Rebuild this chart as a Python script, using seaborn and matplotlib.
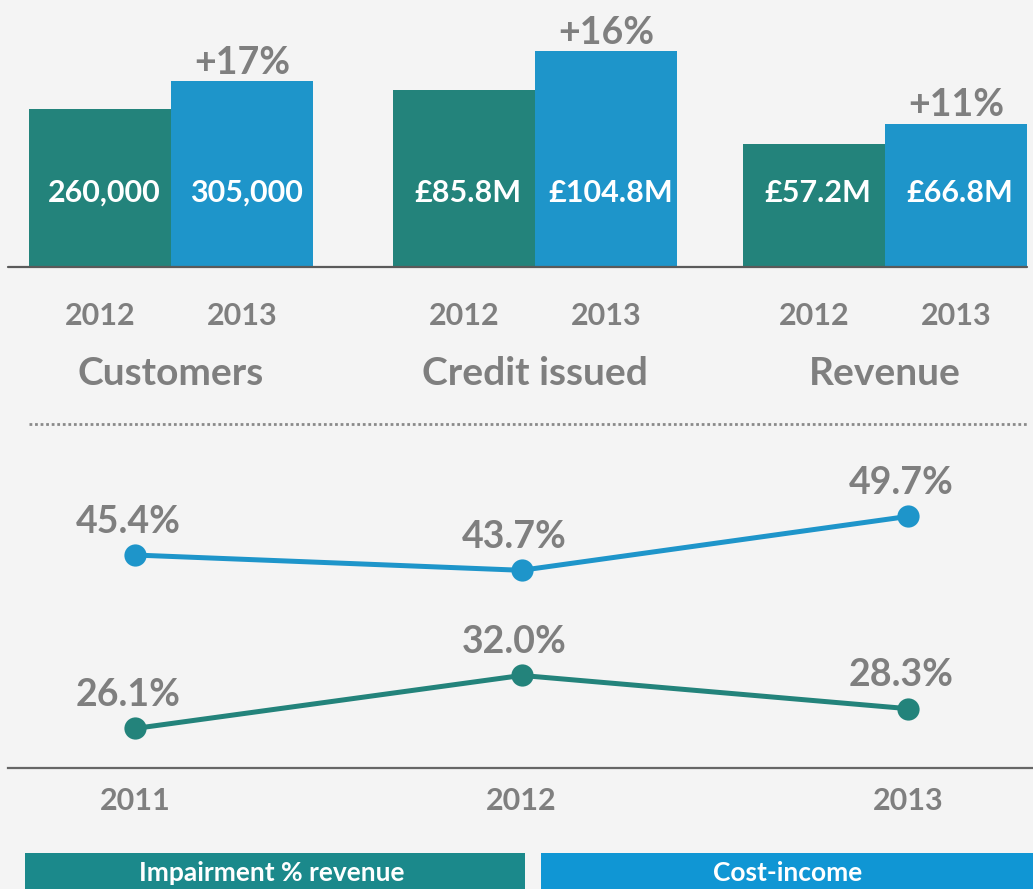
import matplotlib.pyplot as plt
import matplotlib.lines as mlines
import matplotlib.patches as mpatches
import seaborn as sns
import pandas as pd

sns.set_theme(style="white")
plt.rcParams['font.family'] = ['Lato', 'DejaVu Sans']

# data
groups = ["Customers", "Credit issued", "Revenue"]
bar_years = ["2012", "2013"]
bar_values = [[260000, 305000], [85.8, 104.8], [57.2, 66.8]]
bar_labels = [["260,000", "305,000"], ["£85.8M", "£104.8M"], ["£57.2M", "£66.8M"]]
growth = ["+17%", "+16%", "+11%"]

line_years = [2011, 2012, 2013]
impairment = [26.1, 32.0, 28.3]
cost_income = [45.4, 43.7, 49.7]
series_names = ["Impairment % revenue", "Cost-income"]

teal = "#23837b"
blue = "#1e95ca"
grey = "#7f7f7f"
bg = "#f4f4f4"

W, H = 1033, 889
fig = plt.figure(figsize=(W / 100, H / 100), dpi=100, facecolor=bg)


def fx(px):
    return px / W


def fy(py):
    return 1 - py / H


# top bar groups, each with its own scale
lefts = [29, 393, 743]
ylims = [406000, 119.7, 115]
for i, g in enumerate(groups):
    ax = fig.add_axes([fx(lefts[i]), fy(267), fx(284), 247 / H])
    ax.set_facecolor(bg)
    df = pd.DataFrame({"year": bar_years, "value": bar_values[i]})
    sns.barplot(data=df, x="year", y="value", hue="year", palette=[teal, blue],
                width=1, saturation=1, linewidth=0, legend=False, ax=ax)
    ax.set_xlim(-0.5, 1.5)
    ax.set_ylim(0, ylims[i])
    ax.axis("off")
    for j in range(2):
        ax.text(j + 0.03, 0.30, bar_labels[i][j], transform=ax.get_xaxis_transform(),
                ha="center", va="center", color="white", fontsize=22, fontweight="bold")
        ax.text(j, -0.2, bar_years[j], transform=ax.get_xaxis_transform(),
                ha="center", va="center", color=grey, fontsize=22, fontweight="bold")
    ax.annotate(growth[i], (1, bar_values[i][1]), xytext=(0, 13), textcoords="offset points",
                ha="center", va="center", color=grey, fontsize=27, fontweight="bold")
    ax.text(0.5, -0.43, g, transform=ax.get_xaxis_transform(), ha="center", va="center",
            color=grey, fontsize=28, fontweight="bold")

# baseline and dotted divider
fig.add_artist(mlines.Line2D([fx(8), fx(1027)], [fy(267), fy(267)], color="#5a5a5a", lw=1.6))
fig.add_artist(mlines.Line2D([fx(29), fx(1027)], [fy(424), fy(424)], color="#8a8a8a",
                             lw=2, linestyle=(0, (1, 1))))

# line chart
ax2 = fig.add_axes([fx(8), fy(768), fx(1025), 328 / H])
ax2.set_facecolor(bg)
ldf = pd.DataFrame({
    "year": line_years * 2,
    "value": impairment + cost_income,
    "series": [series_names[0]] * 3 + [series_names[1]] * 3,
})
sns.lineplot(data=ldf, x="year", y="value", hue="series", palette=[teal, blue],
             marker="o", markersize=16, markeredgewidth=0, linewidth=3.6,
             legend=False, ax=ax2)
ax2.set_xlim(2011 - 0.329, 2011 + 2.323)
ax2.set_ylim(21.7, 58.2)
for ys in [impairment, cost_income]:
    for x, v in zip(line_years, ys):
        ax2.annotate(f"{v:.1f}%", (x, v), xytext=(-5, 24), textcoords="offset points",
                     ha="center", va="center", color=grey, fontsize=27, fontweight="bold")
sns.despine(ax=ax2, left=True)
ax2.spines["bottom"].set_color("#666666")
ax2.spines["bottom"].set_linewidth(1.6)
ax2.set_yticks([])
ax2.set_xticks(line_years)
ax2.set_xticklabels([str(y) for y in line_years], color=grey, fontsize=22, fontweight="bold")
ax2.tick_params(axis="x", length=0, pad=14)
ax2.set_xlabel("")
ax2.set_ylabel("")

# legend boxes
fig.add_artist(mpatches.Rectangle((fx(25), 0), fx(500), 36 / H, color="#1b898b", lw=0))
fig.add_artist(mpatches.Rectangle((fx(541), 0), fx(492), 36 / H, color="#1096d4", lw=0))
fig.text(fx(272), fy(873), series_names[0], ha="center", va="center", color="white",
         fontsize=19, fontweight="bold")
fig.text(fx(788), fy(873), series_names[1], ha="center", va="center", color="white",
         fontsize=19, fontweight="bold")

fig.savefig("out.png", dpi=100, facecolor=bg)
